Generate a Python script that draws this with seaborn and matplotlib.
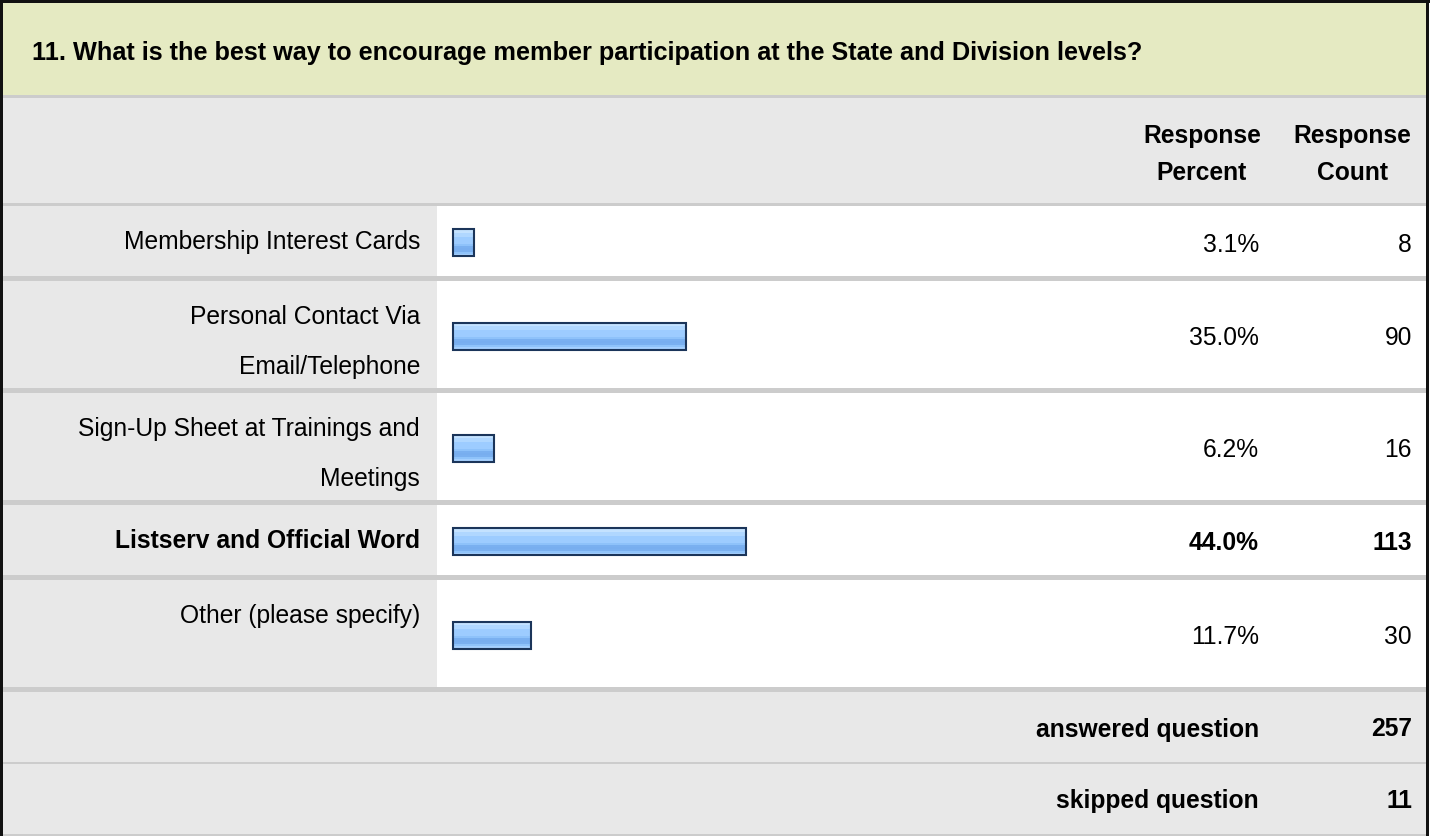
import numpy as np
import seaborn as sns
import matplotlib.pyplot as plt
from matplotlib.patches import Rectangle

# Dados da pergunta
question = "11. What is the best way to encourage member participation at the State and Division levels?"
answers = ["Membership Interest Cards",
           "Personal Contact Via\nEmail/Telephone",
           "Sign-Up Sheet at Trainings and\nMeetings",
           "Listserv and Official Word",
           "Other (please specify)"]
percents = [3.1, 35.0, 6.2, 44.0, 11.7]
counts = [8, 90, 16, 113, 30]
answered = 257
skipped = 11

# Layout em pixels
W, H = 1430, 836
rows = [(206, 276), (281, 388), (393, 500), (505, 575), (580, 687)]
bar_left, bar_span = 453, 665
green, gray, line_c, border_c = "#E5EAC2", "#E8E8E8", "#CCCCCC", "#111111"
fs = 17.7

sns.set_style("white")
plt.rcParams['font.family'] = ['Liberation Sans', 'DejaVu Sans']
plt.rcParams['text.color'] = '#000000'

fig = plt.figure(figsize=(W / 100, H / 100), dpi=100)
bg = fig.add_axes([0, 0, 1, 1])
bg.set_xlim(0, W)
bg.set_ylim(H, 0)
bg.axis("off")

def rect(x0, y0, x1, y1, c):
    bg.add_patch(Rectangle((x0, y0), x1 - x0, y1 - y0, facecolor=c, edgecolor="none"))

# Fundos e linhas da tabela
rect(0, 0, W, H, "white")
rect(3, 3, 1427, 95, green)
rect(3, 95, 1427, 98, line_c)
rect(3, 98, 1427, 203, gray)
rect(3, 203, 1427, 206, line_c)
for i, (top, bot) in enumerate(rows):
    rect(3, top, 437, bot, gray)
    nxt = rows[i + 1][0] if i + 1 < len(rows) else 692
    rect(3, bot, 1427, nxt, line_c)
rect(3, 692, 1427, 762, gray)
rect(3, 762, 1427, 764, line_c)
rect(3, 764, 1427, 834, gray)
rect(3, 834, 1427, 836, line_c)
rect(0, 0, 3, H, border_c)
rect(0, 0, W, 3, border_c)
rect(1426, 0, 1429, H, border_c)

# Textos
bg.text(32, 60, question, fontsize=18.2, fontweight="bold", va="baseline", ha="left")
for x, l1, l2 in [(1202, "Response", "Percent"), (1352, "Response", "Count")]:
    bg.text(x, 143.5, l1, fontsize=fs, fontweight="bold", ha="center", va="baseline")
    bg.text(x, 180, l2, fontsize=fs, fontweight="bold", ha="center", va="baseline")

top_idx = int(np.argmax(percents))
grad_cols = ["#C4E2FF", "#C4E2FF", "#B0D7FF", "#B0D7FF", "#9DCCFF", "#9DCCFF", "#9DCCFF",
             "#8EC2FA", "#7AB0F0", "#78AEEF", "#7AB0F0", "#8FC3FA", "#A5D0FF"]
grad = np.array([plt.matplotlib.colors.to_rgb(c) for c in grad_cols])[:, None, :]

for i, (top, bot) in enumerate(rows):
    weight = "bold" if i == top_idx else "normal"
    for k, line in enumerate(answers[i].split("\n")):
        bg.text(420, top + 43 + 50 * k, line, fontsize=fs, fontweight=weight,
                ha="right", va="baseline")
    yc = (top + bot) / 2 + 1.5
    bg.text(1259, yc + 9, f"{percents[i]:.1f}%", fontsize=fs, fontweight=weight,
            ha="right", va="baseline")
    bg.text(1412, yc + 9, str(counts[i]), fontsize=fs, fontweight=weight,
            ha="right", va="baseline")

    # barra da linha
    rh = bot - top
    ax = fig.add_axes([bar_left / W, 1 - (bot + 1.5) / H, bar_span / W, rh / H])
    sns.barplot(x=[percents[i]], y=[answers[i]], orient="h", ax=ax, color="#9DCCFF",
                width=27 / rh, edgecolor="#1B355A", linewidth=1.5)
    ax.set_xlim(0, 100)
    ax.axis("off")
    ax.patch.set_alpha(0)
    p = ax.patches[0]
    x0, y0, w, h = p.get_x(), p.get_y(), p.get_width(), p.get_height()
    im = ax.imshow(grad, extent=[x0, x0 + w, y0 + h, y0], aspect="auto",
                   interpolation="nearest", zorder=1)
    im.set_clip_path(p)
    p.set_facecolor("none")
    p.set_zorder(2)
    p.set_clip_on(False)
    ax.set_xlim(0, 100)
    ax.set_ylim(0.5, -0.5)

bg.text(1259, 736.5, "answered question", fontsize=fs, fontweight="bold", ha="right", va="baseline")
bg.text(1412, 736.5, str(answered), fontsize=fs, fontweight="bold", ha="right", va="baseline")
bg.text(1259, 808, "skipped question", fontsize=fs, fontweight="bold", ha="right", va="baseline")
bg.text(1412, 808, str(skipped), fontsize=fs, fontweight="bold", ha="right", va="baseline")

fig.savefig("out.png", dpi=100)
